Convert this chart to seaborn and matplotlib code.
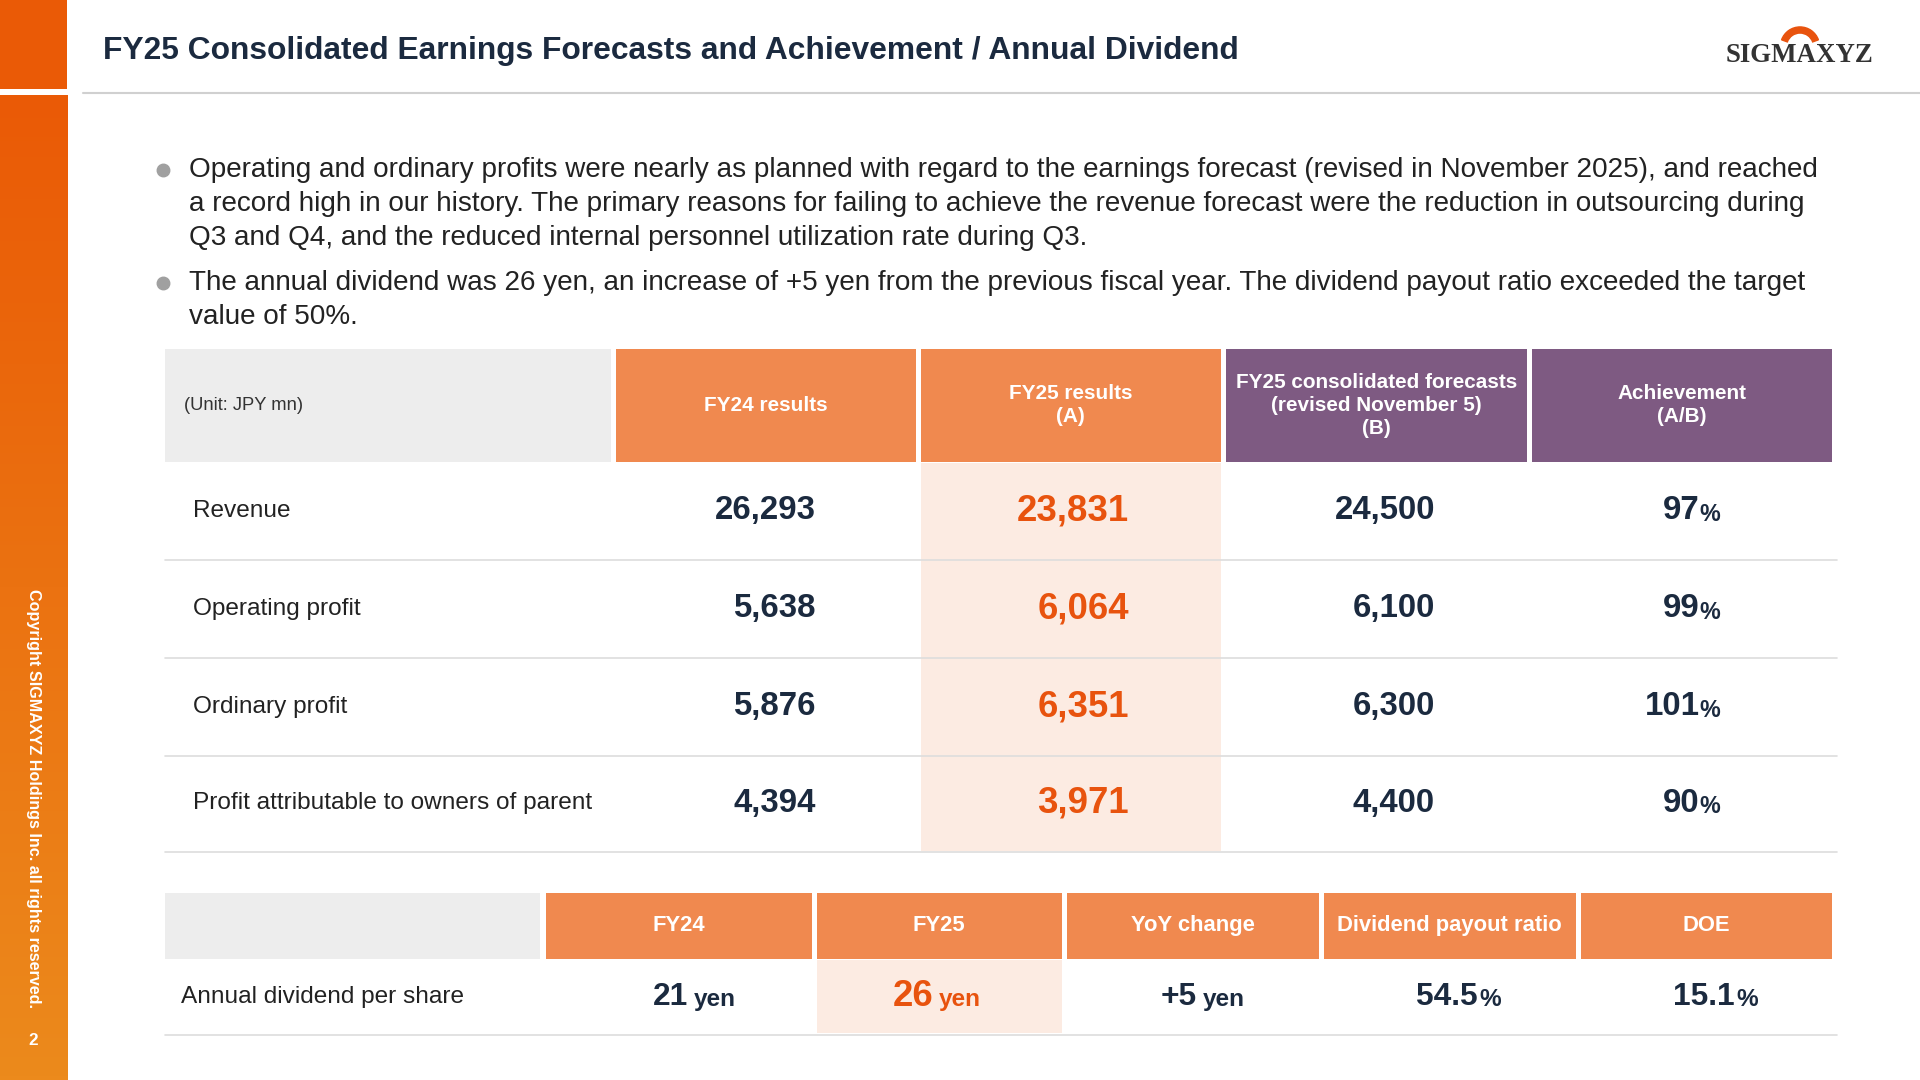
import matplotlib
matplotlib.use("Agg")
import matplotlib.pyplot as plt
import seaborn as sns
import numpy as np
from matplotlib.patches import Rectangle, Wedge
from matplotlib.colors import LinearSegmentedColormap

sns.set_theme(style="white")
plt.rcParams['font.family'] = ['Liberation Sans', 'DejaVu Sans']

title = "FY25 Consolidated Earnings Forecasts and Achievement / Annual Dividend"
bullets = [
    ["Operating and ordinary profits were nearly as planned with regard to the earnings forecast (revised in November 2025), and reached",
     "a record high in our history. The primary reasons for failing to achieve the revenue forecast were the reduction in outsourcing during",
     "Q3 and Q4, and the reduced internal personnel utilization rate during Q3."],
    ["The annual dividend was 26 yen, an increase of +5 yen from the previous fiscal year. The dividend payout ratio exceeded the target",
     "value of 50%."],
]
headers1 = ["FY24 results", "FY25 results\n(A)", "FY25 consolidated forecasts\n(revised November 5)\n(B)", "Achievement\n(A/B)"]
row_labels = ["Revenue", "Operating profit", "Ordinary profit", "Profit attributable to owners of parent"]
fy24 = [26293, 5638, 5876, 4394]
fy25 = [23831, 6064, 6351, 3971]
forecast = [24500, 6100, 6300, 4400]
achievement = [97, 99, 101, 90]
headers2 = ["FY24", "FY25", "YoY change", "Dividend payout ratio", "DOE"]
div_label = "Annual dividend per share"
div_fy24, div_fy25, div_yoy = 21, 26, 5
payout, doe = 54.5, 15.1

ORANGE = "#F0894F"; PURPLE = "#7E5A82"; NAVY = "#1B2A3F"; RED = "#E8530E"
LIGHT = "#FCEBE2"; GRAY = "#EDEDED"
S = 0.88  # ref px -> pt

fig = plt.figure(figsize=(19.2, 10.8), dpi=100)
ax = fig.add_axes([0, 0, 1, 1])
ax.set_xlim(0, 1568); ax.set_ylim(882, 0); ax.axis("off")

def rect(x0, y0, x1, y1, c, **kw):
    ax.add_patch(Rectangle((x0, y0), x1 - x0, y1 - y0, color=c, lw=0, **kw))

grad = np.linspace(0, 1, 256).reshape(-1, 1)
cm = LinearSegmentedColormap.from_list("g", ["#EA5A06", "#EC8A1C"])
ax.imshow(grad, cmap=cm, extent=[0, 55, 882, 78], aspect="auto", zorder=0)
rect(0, 0, 55, 73, "#EA5A06")
ax.text(27, 652, "Copyright SIGMAXYZ Holdings Inc. all rights reserved.", rotation=-90,
        ha="center", va="center", color="white", fontsize=13.2 * S, fontweight="bold")
ax.text(27, 850, "2", ha="center", va="center", color="white", fontsize=14 * S, fontweight="bold")

ax.text(84, 42, title, ha="left", va="center", color=NAVY, fontsize=26 * S, fontweight="bold")
ax.plot([68, 1568], [76, 76], color="#D0D0D0", lw=1.5)
# logo
ax.add_patch(Wedge((1470, 38), 16, 200, 340, width=5, color=RED))
ax.text(1470, 45, "SIGMAXYZ", ha="center", va="center", color="#333333", fontsize=22 * S,
        fontweight="bold", family="Liberation Serif")

ys = [139, 231]
for b, y0 in zip(bullets, ys):
    ax.plot(133, y0, "o", color="#A0A0A0", ms=9)
    for i, line in enumerate(b):
        ax.text(154, y0 + i * 27.5, line, ha="left", va="center", color="#222222", fontsize=22.8 * S)

cols = [(503, 748), (752, 997), (1001, 1247), (1251, 1496)]
hc = [ORANGE, ORANGE, PURPLE, PURPLE]
rect(135, 285, 499, 377, GRAY)
ax.text(150, 331, "(Unit: JPY mn)", ha="left", va="center", color="#333333", fontsize=15 * S)
for (x0, x1), c, h in zip(cols, hc, headers1):
    rect(x0, 285, x1, 377, c)
    ax.text((x0 + x1) / 2, 331, h, ha="center", va="center", color="white", fontsize=17 * S,
            fontweight="bold", linespacing=1.25)
rect(752, 378, 997, 695, LIGHT)
rtop = [378, 458, 538, 617]
for i, lab in enumerate(row_labels):
    yc = rtop[i] + 39
    ax.plot([135, 1500], [rtop[i] + 79, rtop[i] + 79], color="#DDDDDD", lw=1.2)
    ax.text(158, yc, lab, ha="left", va="center", color="#222222", fontsize=20 * S)
    ax.text(666, yc, f"{fy24[i]:,}", ha="right", va="center", color=NAVY, fontsize=27 * S, fontweight="bold")
    ax.text(922, yc, f"{fy25[i]:,}", ha="right", va="center", color=RED, fontsize=30 * S, fontweight="bold")
    ax.text(1172, yc, f"{forecast[i]:,}", ha="right", va="center", color=NAVY, fontsize=27 * S, fontweight="bold")
    ax.text(1388, yc, f"{achievement[i]}", ha="right", va="center", color=NAVY, fontsize=27 * S, fontweight="bold")
    ax.text(1388, yc + 3, "%", ha="left", va="center", color=NAVY, fontsize=19 * S, fontweight="bold")

cols2 = [(446, 663), (667, 867), (871, 1077), (1081, 1287), (1291, 1496)]
rect(135, 729, 441, 783, GRAY)
for (x0, x1), h in zip(cols2, headers2):
    rect(x0, 729, x1, 783, ORANGE)
    ax.text((x0 + x1) / 2, 756, h, ha="center", va="center", color="white", fontsize=18 * S, fontweight="bold")
rect(667, 784, 867, 844, LIGHT)
ax.plot([135, 1500], [845, 845], color="#DDDDDD", lw=1.2)
yc = 814
ax.text(148, yc, div_label, ha="left", va="center", color="#222222", fontsize=20 * S)
def val(xr, big, small, col, bs=26, gap=5):
    ax.text(xr, yc, big, ha="right", va="center", color=col, fontsize=bs * S, fontweight="bold")
    ax.text(xr + gap, yc + 2, small, ha="left", va="center", color=col, fontsize=20 * S, fontweight="bold")
val(562, f"{div_fy24}", "yen", NAVY)
val(762, f"{div_fy25}", "yen", RED, 30)
val(977, f"+{div_yoy}", "yen", NAVY)
val(1207, f"{payout}", "%", NAVY, gap=1)
val(1417, f"{doe}", "%", NAVY, gap=1)

fig.savefig("out.png", dpi=100, facecolor="white")
